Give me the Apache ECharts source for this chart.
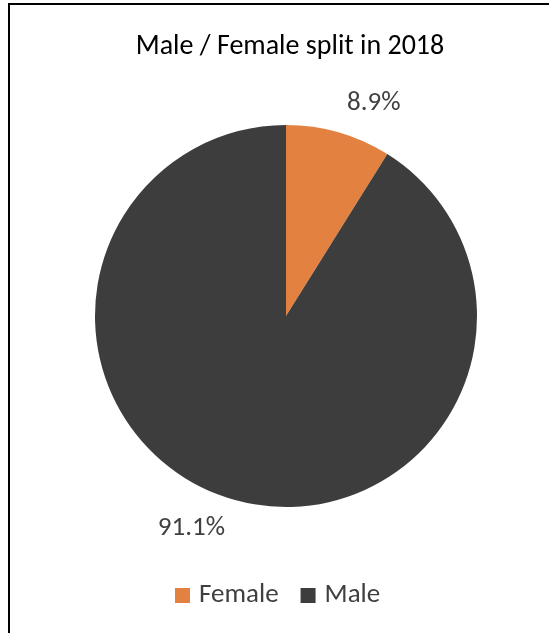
<!DOCTYPE html>
<html>
<head>
<meta charset="utf-8">
<script src="https://cdn.jsdelivr.net/npm/echarts@6/dist/echarts.min.js"></script>
<style>
  html, body { margin: 0; padding: 0; background: #fff; }
  #chart { width: 549px; height: 633px; }
</style>
</head>
<body>
<div id="chart"></div>
<script>
// Share of each group in 2018 (percent)
const categories = ['Female', 'Male'];
const shares = [8.9, 91.1];
const colors = ['#E38240', '#3D3D3D'];

const chart = echarts.init(document.getElementById('chart'), null, { renderer: 'canvas' });

const font = 'Carlito, "Open Sans", "Liberation Sans", sans-serif';

chart.setOption({
  animation: false,
  backgroundColor: '#ffffff',
  title: {
    text: 'Male / Female split in 2018',
    left: 285,
    textAlign: 'center',
    top: 28,
    textStyle: { fontFamily: font, fontSize: 28, fontWeight: 'normal', color: '#000000' }
  },
  legend: {
    data: categories,
    top: 582,
    left: 175,
    padding: 0,
    itemWidth: 15,
    itemHeight: 15,
    itemGap: 22,
    icon: 'rect',
    textStyle: { fontFamily: font, fontSize: 27, color: '#404040', padding: [0, 0, 0, 4] }
  },
  graphic: [{
    type: 'rect',
    shape: { x: 9, y: 4, width: 700, height: 800 },
    style: { fill: 'none', stroke: '#000000', lineWidth: 2 },
    silent: true,
    z: 100
  }],
  series: [{
    type: 'pie',
    center: [286, 316],
    radius: [0, 191],
    startAngle: 90,
    clockwise: true,
    color: colors,
    label: {
      show: true,
      position: 'outside',
      formatter: (p) => p.value.toFixed(1) + '%',
      fontFamily: font,
      fontSize: 27,
      color: '#404040',
      distanceToLabelLine: 0
    },
    labelLine: { show: false, length: 30, length2: 0 },
    data: categories.map((c, i) => ({ name: c, value: shares[i] }))
  }]
});
</script>
</body>
</html>
